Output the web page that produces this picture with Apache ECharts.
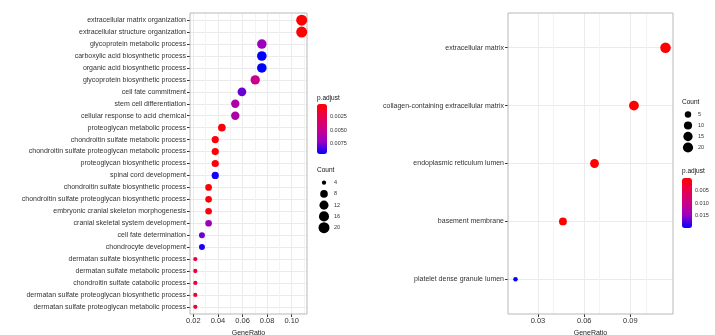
<!DOCTYPE html>
<html><head><meta charset="utf-8">
<script src="https://cdn.jsdelivr.net/npm/echarts@6/dist/echarts.min.js"></script>
<style>html,body{margin:0;padding:0;background:#fff}#c{width:715px;height:335px}</style>
</head><body><div id="c"></div>
<script>
// ---------- data: left panel (biological process) ----------
const categoriesL = [
  'extracellular matrix organization',
  'extracellular structure organization',
  'glycoprotein metabolic process',
  'carboxylic acid biosynthetic process',
  'organic acid biosynthetic process',
  'glycoprotein biosynthetic process',
  'cell fate commitment',
  'stem cell differentiation',
  'cellular response to acid chemical',
  'proteoglycan metabolic process',
  'chondroitin sulfate metabolic process',
  'chondroitin sulfate proteoglycan metabolic process',
  'proteoglycan biosynthetic process',
  'spinal cord development',
  'chondroitin sulfate biosynthetic process',
  'chondroitin sulfate proteoglycan biosynthetic process',
  'embryonic cranial skeleton morphogenesis',
  'cranial skeletal system development',
  'cell fate determination',
  'chondrocyte development',
  'dermatan sulfate biosynthetic process',
  'dermatan sulfate metabolic process',
  'chondroitin sulfate catabolic process',
  'dermatan sulfate proteoglycan biosynthetic process',
  'dermatan sulfate proteoglycan metabolic process'
];
const geneRatioL = [0.1081,0.1081,0.0757,0.0757,0.0757,0.0703,0.0595,0.0541,0.0541,0.0432,
  0.0378,0.0378,0.0378,0.0378,0.0324,0.0324,0.0324,0.0324,0.0270,0.0270,
  0.0216,0.0216,0.0216,0.0216,0.0216];
const countL = [20,20,14,14,14,13,11,10,10,8,7,7,7,7,6,6,6,6,5,5,4,4,4,4,4];
const pAdjustL = [0.00008,0.00008,0.0069,0.0095,0.0095,0.0048,0.0079,0.0062,0.0062,0.0005,
  0.0003,0.0003,0.0003,0.0092,0.0003,0.0003,0.0006,0.0070,0.0078,0.0091,
  0.0019,0.0019,0.0019,0.0019,0.0019];
const xTicksL = [0.02,0.04,0.06,0.08,0.10];
const xMinorL = [0.03,0.05,0.07,0.09,0.11];
const legendCountsL = [4,8,12,16,20];
const colorTicksL = [0.0025,0.0050,0.0075];

// ---------- data: right panel (cellular component) ----------
const categoriesR = [
  'extracellular matrix',
  'collagen-containing extracellular matrix',
  'endoplasmic reticulum lumen',
  'basement membrane',
  'platelet dense granule lumen'
];
const geneRatioR = [0.1128,0.0923,0.0667,0.0462,0.0154];
const countR = [22,18,13,9,3];
const pAdjustR = [0.0000001,0.0000005,0.00001,0.0001,0.0199];
const xTicksR = [0.03,0.06,0.09];
const xMinorR = [0.015,0.045,0.075,0.105];
const legendCountsR = [5,10,15,20];
const colorTicksR = [0.005,0.010,0.015];

// ---------- helpers ----------
const FONT = '"Liberation Sans", Arial, sans-serif';
const GRADIENT = ['#FF0000','#E8004F','#CA0088','#9A00C3','#0000FF'];
function expandRange(vals){const mn=Math.min(...vals),mx=Math.max(...vals),s=mx-mn;return [mn-0.05*s,mx+0.05*s];}
function sizeScale(counts,dmin,dmax){const mn=Math.min(...counts),mx=Math.max(...counts);
  return c=>dmin+(dmax-dmin)*Math.sqrt(Math.max(0,c-mn)/(mx-mn));}
const sizeL = sizeScale(countL,4.3,11);
const sizeR = sizeScale(countR,4.5,10.5);
const rangeL = expandRange(geneRatioL);
const rangeR = expandRange(geneRatioR);

function catAxis(gi,cats){
  const vals = cats.map((_,i)=>i+1);
  return {type:'value',gridIndex:gi,min:0.4,max:cats.length+0.6,inverse:true,splitNumber:cats.length,
    axisLine:{show:false},
    axisTick:{show:true,length:3,lineStyle:{color:'#333'},customValues:vals},
    axisLabel:{customValues:vals,formatter:v=>cats[Math.round(v)-1]||'',fontSize:7,color:'#333',margin:4,fontFamily:FONT},
    splitLine:{show:true,lineStyle:{color:'#ebebeb',width:1}}};
}
function ratioAxis(gi,range,ticks,splitNumber,digits){
  return {type:'value',gridIndex:gi,min:range[0],max:range[1],splitNumber,
    name:'GeneRatio',nameLocation:'middle',nameGap:9,
    nameTextStyle:{fontSize:7,color:'#222',fontFamily:FONT},
    axisLine:{show:false},
    axisTick:{show:true,length:3,lineStyle:{color:'#333'},customValues:ticks},
    axisLabel:{customValues:ticks,formatter:v=>v.toFixed(digits),fontSize:7.5,color:'#333',margin:3,fontFamily:FONT},
    splitLine:{show:true,lineStyle:{color:'#ebebeb',width:1}}};
}
function hiddenX(gi){return {type:'value',gridIndex:gi,min:0,max:1,show:false};}
function legendY(gi,vals){
  return {type:'category',gridIndex:gi,data:vals.map(String),inverse:true,position:'right',
    axisLine:{show:false},axisTick:{show:false},splitLine:{show:false},
    axisLabel:{fontSize:5.5,color:'#333',margin:4,fontFamily:FONT}};
}
function colorAxis(gi,pvals,ticks,digits){
  return {type:'value',gridIndex:gi,min:Math.min(...pvals),max:Math.max(...pvals),inverse:true,position:'right',
    axisLine:{show:false},splitLine:{show:false},
    axisTick:{show:true,inside:true,length:2,lineStyle:{color:'#fff'},customValues:ticks},
    axisLabel:{customValues:ticks,formatter:v=>v.toFixed(digits),fontSize:5.5,color:'#333',margin:3,fontFamily:FONT}};
}
function minorLines(xi,yi,breaks){
  return {type:'line',xAxisIndex:xi,yAxisIndex:yi,data:[],z:1,silent:true,
    markLine:{silent:true,z:1,symbol:['none','none'],label:{show:false},animation:false,
      lineStyle:{color:'#f3f3f3',width:1,type:'solid'},emphasis:{disabled:true},
      data:breaks.map(v=>({xAxis:v}))}};
}
function titleText(text,left,top){
  return {text,left,top,padding:0,textStyle:{fontSize:6.5,fontWeight:'normal',color:'#111',fontFamily:FONT}};
}
function grid(o){return Object.assign({outerBoundsMode:'none',containLabel:false},o);}

const chart = echarts.init(document.getElementById('c'),null,{renderer:'canvas'});
chart.setOption({
  animation:false,
  backgroundColor:'#fff',
  textStyle:{fontFamily:FONT},
  title:[
    titleText('p.adjust',317,95),
    titleText('Count',317,167),
    titleText('Count',682,99),
    titleText('p.adjust',682,168)
  ],
  grid:[
    grid({left:190,top:13,width:117,height:301,show:true,borderColor:'#b8b8b8',borderWidth:1,z:3}),
    grid({left:508,top:13,width:165,height:301,show:true,borderColor:'#b8b8b8',borderWidth:1,z:3}),
    grid({left:318,top:177,width:12,height:56.25}),
    grid({left:682,top:109,width:12,height:44}),
    grid({left:317,top:104,width:10,height:50}),
    grid({left:682,top:178,width:10,height:50})
  ],
  xAxis:[
    ratioAxis(0,rangeL,xTicksL,5,2),
    ratioAxis(1,rangeR,xTicksR,4,2),
    hiddenX(2),hiddenX(3),hiddenX(4),hiddenX(5)
  ],
  yAxis:[
    catAxis(0,categoriesL),
    catAxis(1,categoriesR),
    legendY(2,legendCountsL),
    legendY(3,legendCountsR),
    colorAxis(4,pAdjustL,colorTicksL,4),
    colorAxis(5,pAdjustR,colorTicksR,3)
  ],
  visualMap:[
    {type:'continuous',seriesIndex:0,dimension:3,min:Math.min(...pAdjustL),max:Math.max(...pAdjustL),
     inverse:true,calculable:false,hoverLink:false,orient:'vertical',inRange:{color:GRADIENT},
     left:317,top:104,itemWidth:10,itemHeight:50,padding:0,text:null},
    {type:'continuous',seriesIndex:1,dimension:3,min:Math.min(...pAdjustR),max:Math.max(...pAdjustR),
     inverse:true,calculable:false,hoverLink:false,orient:'vertical',inRange:{color:GRADIENT},
     left:682,top:178,itemWidth:10,itemHeight:50,padding:0,text:null}
  ],
  series:[
    {type:'scatter',xAxisIndex:0,yAxisIndex:0,z:3,
     data:categoriesL.map((c,i)=>[geneRatioL[i],i+1,countL[i],pAdjustL[i]]),
     symbolSize:v=>sizeL(v[2]),itemStyle:{opacity:1},emphasis:{disabled:true}},
    {type:'scatter',xAxisIndex:1,yAxisIndex:1,z:3,
     data:categoriesR.map((c,i)=>[geneRatioR[i],i+1,countR[i],pAdjustR[i]]),
     symbolSize:v=>sizeR(v[2]),itemStyle:{opacity:1},emphasis:{disabled:true}},
    {type:'scatter',xAxisIndex:2,yAxisIndex:2,
     data:legendCountsL.map((c,i)=>[0.5,i,c]),symbolSize:v=>sizeL(v[2]),
     itemStyle:{color:'#000',opacity:1},emphasis:{disabled:true}},
    {type:'scatter',xAxisIndex:3,yAxisIndex:3,
     data:legendCountsR.map((c,i)=>[0.5,i,c]),symbolSize:v=>sizeR(v[2]),
     itemStyle:{color:'#000',opacity:1},emphasis:{disabled:true}},
    minorLines(0,0,xMinorL),
    minorLines(1,1,xMinorR)
  ]
});
</script></body></html>
